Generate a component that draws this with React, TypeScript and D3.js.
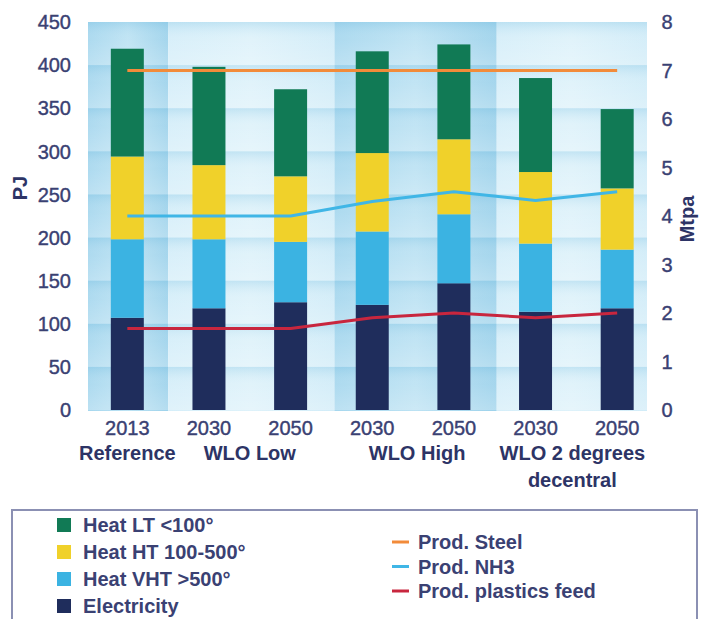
import React from "react";
import * as d3 from "d3";

const years = ["2013", "2030", "2050", "2030", "2050", "2030", "2050"];
const scenarios = ["Reference", "WLO Low", "WLO Low", "WLO High", "WLO High", "WLO 2 degrees decentral", "WLO 2 degrees decentral"];
const groupNames = ["Reference", "WLO Low", "WLO High", "WLO 2 degrees decentral"];

const electricity = [107, 118, 125, 122, 147, 114, 118];
const heatVHT = [91, 80, 70, 85, 80, 79, 68];
const heatHT = [96, 86, 76, 91, 87, 83, 71];
const heatLT = [125, 114, 101, 118, 110, 109, 92];

const prodSteel = [7, 7, 7, 7, 7, 7, 7];
const prodNH3 = [4.0, 4.0, 4.0, 4.3, 4.5, 4.32, 4.5];
const prodPlastics = [1.68, 1.68, 1.68, 1.9, 2.0, 1.9, 2.0];

const leftTicks = [0, 50, 100, 150, 200, 250, 300, 350, 400, 450];
const rightTicks = [0, 1, 2, 3, 4, 5, 6, 7, 8];

const stackKeys = ["electricity", "heatVHT", "heatHT", "heatLT"];
const stackColors: Record<string, string> = {
  electricity: "#1f2d5c",
  heatVHT: "#3bb3e2",
  heatHT: "#f0d12a",
  heatLT: "#117a55",
};
const barLegend = [
  { key: "heatLT", label: "Heat LT <100°" },
  { key: "heatHT", label: "Heat HT 100-500°" },
  { key: "heatVHT", label: "Heat VHT >500°" },
  { key: "electricity", label: "Electricity" },
];
const lineSeries = [
  { label: "Prod. Steel", values: prodSteel, color: "#f28b3a" },
  { label: "Prod. NH3", values: prodNH3, color: "#40b6e6" },
  { label: "Prod. plastics feed", values: prodPlastics, color: "#c8263e" },
];

const FONT = "'Liberation Sans', Arial, Helvetica, sans-serif";
const TXT = "#3a4173";
const TXT_B = "#2d3466";

export default function App() {
  const W = 710, H = 619;
  const plotL = 88, plotR = 647, plotT = 22, plotB = 410;
  const idx = d3.range(years.length).map(String);
  const x = d3.scaleBand<string>().domain(idx).range([86.5, 658]).paddingInner(0.596).paddingOuter(0.298);
  const yL = d3.scaleLinear().domain([0, 450]).range([plotB, plotT]);
  const yR = d3.scaleLinear().domain([0, 8]).range([plotB, plotT]);
  const bw = x.bandwidth();
  const step = x.step();
  const cx = (i: number) => (x(String(i)) as number) + bw / 2;

  const rows = years.map((_, i) => ({
    electricity: electricity[i],
    heatVHT: heatVHT[i],
    heatHT: heatHT[i],
    heatLT: heatLT[i],
  }));
  const stacked = d3.stack<any>().keys(stackKeys)(rows);

  const groups = groupNames.map((g, gi) => {
    const members = scenarios.map((s, i) => (s === g ? i : -1)).filter((i) => i >= 0);
    const first = members[0], last = members[members.length - 1];
    const x0 = gi === 0 ? plotL : cx(first) - step / 2 + (gi === 2 ? 3 : gi === 3 ? 2 : 0);
    const x1 = gi === groupNames.length - 1 ? plotR : cx(last) + step / 2 + (gi === 1 ? 3 : gi === 2 ? 2 : 0);
    return { name: g, x0, x1, center: (cx(first) + cx(last)) / 2, dark: gi % 2 === 0 };
  });

  const line = (vals: number[]) =>
    d3.line<number>().x((_, i) => cx(i)).y((v) => yR(v)).curve(d3.curveLinear)(vals) as string;

  const bandRows = d3.range(0, 450, 50);

  return (
    <svg width={W} height={H} style={{ display: "block", position: "absolute", left: 0, top: 0, background: "#fff" }} fontFamily={FONT}>
      <defs>
        <linearGradient id="colDark" x1="0" x2="1" y1="0" y2="0">
          <stop offset="0" stopColor="#a6d7ee" />
          <stop offset="0.5" stopColor="#bce2f3" />
          <stop offset="1" stopColor="#9dd2eb" />
        </linearGradient>
        <linearGradient id="colLight" x1="0" x2="1" y1="0" y2="0">
          <stop offset="0" stopColor="#d5eef9" />
          <stop offset="0.5" stopColor="#def2fa" />
          <stop offset="1" stopColor="#d1ecf8" />
        </linearGradient>
        <linearGradient id="rowShade" x1="0" x2="0" y1="0" y2="1">
          <stop offset="0" stopColor="#6fbade" stopOpacity="0.25" />
          <stop offset="0.4" stopColor="#ffffff" stopOpacity="0.08" />
          <stop offset="1" stopColor="#ffffff" stopOpacity="0.25" />
        </linearGradient>
      </defs>

      {groups.map((g) => (
        <rect key={g.name} x={g.x0} y={plotT} width={g.x1 - g.x0} height={plotB - plotT + 1}
          fill={g.dark ? "url(#colDark)" : "url(#colLight)"} />
      ))}
      {bandRows.map((v) => (
        <rect key={v} x={plotL} y={yL(v + 50)} width={plotR - plotL} height={yL(v) - yL(v + 50)} fill="url(#rowShade)" />
      ))}

      {stacked.map((layer) => (
        <g key={layer.key} fill={stackColors[layer.key]}>
          {layer.map((d, i) => (
            <rect key={i} x={x(String(i))} y={yL(d[1])} width={bw} height={yL(d[0]) - yL(d[1])} />
          ))}
        </g>
      ))}

      {lineSeries.map((s) => (
        <path key={s.label} d={line(s.values)} fill="none" stroke={s.color} strokeWidth={3} strokeLinejoin="round" />
      ))}

      {leftTicks.map((t) => (
        <text key={t} x={71} y={yL(t)} dy="0.36em" textAnchor="end" fontSize={20} fill={TXT} stroke={TXT} strokeWidth={0.4}>
          {t}
        </text>
      ))}
      <text transform={`translate(27,188) rotate(-90)`} textAnchor="middle" fontSize={20} fontWeight="bold" fill={TXT_B}>
        PJ
      </text>

      {rightTicks.map((t) => (
        <text key={t} x={667} y={yR(t)} dy="0.36em" textAnchor="middle" fontSize={20} fill={TXT} stroke={TXT} strokeWidth={0.4}>
          {t}
        </text>
      ))}
      <text transform={`translate(694,219) rotate(-90)`} textAnchor="middle" fontSize={20} fontWeight="bold" fill={TXT_B}>
        Mtpa
      </text>

      {years.map((yr, i) => (
        <text key={i} x={cx(i)} y={435} textAnchor="middle" fontSize={20} fill={TXT} stroke={TXT} strokeWidth={0.4}>
          {yr}
        </text>
      ))}
      {groups.map((g) => {
        const parts = g.name === "WLO 2 degrees decentral" ? ["WLO 2 degrees", "decentral"] : [g.name];
        const gx = g.center + (g.name === "WLO High" ? 4 : g.name === "WLO 2 degrees decentral" ? -4 : 0);
        return (
          <text key={g.name} x={gx} y={460} textAnchor="middle" fontSize={20} fontWeight="bold" fill={TXT_B}>
            {parts.map((p, pi) => (
              <tspan key={pi} x={gx} dy={pi === 0 ? 0 : 27}>{p}</tspan>
            ))}
          </text>
        );
      })}

      <rect x={12} y={510} width={685} height={130} fill="#fff" stroke="#8b90b3" strokeWidth={2} />
      {barLegend.map((b, i) => {
        const yc = 525 + i * 27;
        return (
          <g key={b.key}>
            <rect x={57} y={yc - 7} width={14} height={14} fill={stackColors[b.key]} />
            <text x={83} y={yc} dy="0.36em" fontSize={20} fontWeight="bold" fill={TXT}>{b.label}</text>
          </g>
        );
      })}
      {lineSeries.map((s, i) => {
        const yc = 542 + i * 24.5;
        return (
          <g key={s.label}>
            <line x1={392} x2={409} y1={yc} y2={yc} stroke={s.color} strokeWidth={3} />
            <text x={418} y={yc} dy="0.36em" fontSize={20} fontWeight="bold" fill={TXT}>{s.label}</text>
          </g>
        );
      })}
    </svg>
  );
}
